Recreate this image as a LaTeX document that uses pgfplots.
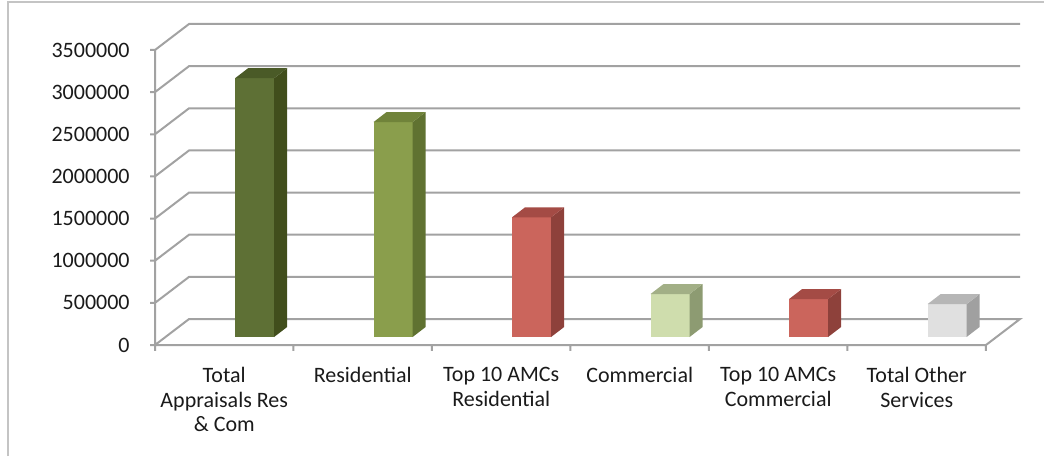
\documentclass[border=0pt]{standalone}
\usepackage{fontspec}
\setmainfont{Carlito}
\usepackage{pgfplots}
\pgfplotsset{compat=1.18}
\usepackage{pgfplotstable}

\definecolor{gridc}{HTML}{A2A2A2}
\definecolor{framec}{HTML}{C4C4C4}
\definecolor{txt}{HTML}{1A1A1A}
\definecolor{gA}{HTML}{5E7035}\definecolor{gAs}{HTML}{414E1C}\definecolor{gAt}{HTML}{4A5A27}
\definecolor{gB}{HTML}{8A9E4C}\definecolor{gBs}{HTML}{607231}\definecolor{gBt}{HTML}{70833A}
\definecolor{rA}{HTML}{CB655C}\definecolor{rAs}{HTML}{8E413B}\definecolor{rAt}{HTML}{A44B45}
\definecolor{lA}{HTML}{CFDDAD}\definecolor{lAs}{HTML}{8D9B72}\definecolor{lAt}{HTML}{A2AF86}
\definecolor{wA}{HTML}{E0E0E0}\definecolor{wAs}{HTML}{A0A0A0}\definecolor{wAt}{HTML}{B6B6B6}

% face templates (x offset from category, y base, k = 1 if scaled by value)
\pgfplotstableread{
x y k
0.078 94900 0
0.360 94900 0
0.360 94900 1
0.078 94900 1
}\frontface
\pgfplotstableread{
x y k
0.360 94900 0
0.454 213500 0
0.454 213500 1
0.360 94900 1
}\sideface
\pgfplotstableread{
x y k
0.078 94900 1
0.360 94900 1
0.454 213500 1
0.172 213500 1
}\topface

\newcommand{\cube}[5]{%
  \addplot[draw=none, fill=#3] table[x expr={#1+\thisrow{x}}, y expr={\thisrow{y}+\thisrow{k}*#2}]{\frontface};
  \addplot[draw=none, fill=#4] table[x expr={#1+\thisrow{x}}, y expr={\thisrow{y}+\thisrow{k}*#2}]{\sideface};
  \addplot[draw=none, fill=#5] table[x expr={#1+\thisrow{x}}, y expr={\thisrow{y}+\thisrow{k}*#2}]{\topface};
}

\begin{document}
\begin{tikzpicture}[x=1pt,y=1pt]
\useasboundingbox (0,0) rectangle (522,-228);
\draw[framec, line width=0.7pt] (4,-228) -- (4,-1) -- (522,-1);
\begin{axis}[
  at={(77.5pt,-172.5pt)}, anchor=south west,
  scale only axis, width=432.8pt, height=162.26pt,
  xmin=-0.5, xmax=5.75, ymin=0, ymax=3850000,
  clip=false, unbounded coords=jump,
  scaled y ticks=false,
  axis line style={draw=none}, tick style={draw=none}, major tick length=0pt,
  xtick={0,1,2,3,4,5},
  xticklabels={{Total\\Appraisals Res\\\& Com},{Residential},{Top 10 AMCs\\Residential},{Commercial},{Top 10 AMCs\\Commercial},{Total Other\\Services}},
  ytick={0,500000,1000000,1500000,2000000,2500000,3000000,3500000},
  yticklabels={0,500000,1000000,1500000,2000000,2500000,3000000,3500000},
  tick label style={font=\fontsize{11}{12.25}\selectfont, text=txt},
  xticklabel style={align=center, anchor=north, inner sep=0pt, yshift=-11pt},
  yticklabel style={anchor=east, inner sep=0pt, xshift=-12.5pt},
]
% walls, floor and axis
\addplot[gridc, line width=1pt] coordinates {
 (-0.5,0) (-0.254,308500) (5.746,308500) (5.5,0) (-0.5,0) (0,nan)
 (-0.5,500000) (-0.254,808500) (5.746,808500) (0,nan)
 (-0.5,1000000) (-0.254,1308500) (5.746,1308500) (0,nan)
 (-0.5,1500000) (-0.254,1808500) (5.746,1808500) (0,nan)
 (-0.5,2000000) (-0.254,2308500) (5.746,2308500) (0,nan)
 (-0.5,2500000) (-0.254,2808500) (5.746,2808500) (0,nan)
 (-0.5,3000000) (-0.254,3308500) (5.746,3308500) (0,nan)
 (-0.5,3500000) (-0.254,3808500) (5.746,3808500) (0,nan)
 (-0.5,0) (-0.5,3500000) (0,nan)
 (-0.536,0) (-0.5,0) (0,nan)
 (-0.536,500000) (-0.5,500000) (0,nan)
 (-0.536,1000000) (-0.5,1000000) (0,nan)
 (-0.536,1500000) (-0.5,1500000) (0,nan)
 (-0.536,2000000) (-0.5,2000000) (0,nan)
 (-0.536,2500000) (-0.5,2500000) (0,nan)
 (-0.536,3000000) (-0.5,3000000) (0,nan)
 (-0.536,3500000) (-0.5,3500000) (0,nan)
 (-0.5,0) (-0.5,-71000) (0,nan)
 (0.5,0) (0.5,-71000) (0,nan)
 (1.5,0) (1.5,-71000) (0,nan)
 (2.5,0) (2.5,-71000) (0,nan)
 (3.5,0) (3.5,-71000) (0,nan)
 (4.5,0) (4.5,-71000) (0,nan)
 (5.5,0) (5.5,-71000)
};
% bars (value per category)
\cube{0}{3070000}{gA}{gAs}{gAt}
\cube{1}{2550000}{gB}{gBs}{gBt}
\cube{2}{1420000}{rA}{rAs}{rAt}
\cube{3}{510000}{lA}{lAs}{lAt}
\cube{4}{450000}{rA}{rAs}{rAt}
\cube{5}{390000}{wA}{wAs}{wAt}
\end{axis}
\end{tikzpicture}
\end{document}
